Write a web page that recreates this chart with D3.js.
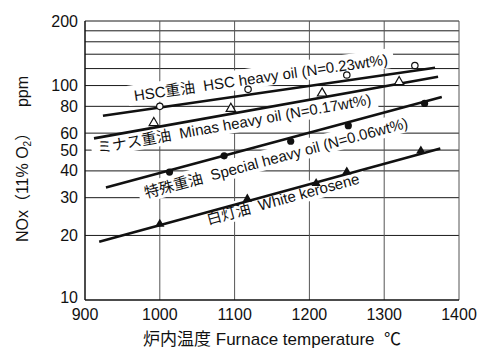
<!DOCTYPE html>
<html>
<head>
<meta charset="utf-8">
<script src="https://cdn.jsdelivr.net/npm/d3@7"></script>
<style>
  body { margin: 0; background: #fff; }
  text { font-family: "Liberation Sans", Arial, "Noto Sans CJK JP", sans-serif; fill: #111; }
</style>
</head>
<body>
<div id="chart"></div>
<script>
// Measured points (furnace temperature in C, NOx ppm at 11% O2)
const hscTemp = [1000, 1118, 1250, 1341];
const hscNox = [80, 96, 112, 124];
const minasTemp = [992, 1095, 1217, 1320];
const minasNox = [67, 78, 92, 104];
const specialTemp = [1013, 1086, 1175, 1252, 1354];
const specialNox = [39.5, 47, 55, 65, 82.5];
const keroTemp = [1000, 1117, 1209, 1250, 1349];
const keroNox = [22.6, 29.6, 35, 39.6, 49.6];

// Trend lines, start and end (temperature, NOx)
const hscFit = [[924, 72.3], [1368, 121]];
const minasFit = [[912, 56.7], [1372, 110]];
const specialFit = [[928, 33.5], [1377, 88.5]];
const keroFit = [[919, 18.7], [1375, 50.9]];

const seriesLabels = [
    "HSC重油  HSC heavy oil (N=0.23wt%)",
    "ミナス重油  Minas heavy oil (N=0.17wt%)",
    "特殊重油  Special heavy oil (N=0.06wt%)",
    "白灯油  White kerosene"
];

const xTicks = [900, 1000, 1100, 1200, 1300, 1400];
const yTicks = [10, 20, 30, 40, 50, 60, 80, 100, 200];
const yGrid = [20, 30, 40, 50, 60, 80, 100, 120, 140, 160, 180, 200];

const width = 480, height = 349;
const margin = { left: 85, right: 21, top: 21, bottom: 49 };

const svg = d3.select("#chart").append("svg")
    .attr("width", width)
    .attr("height", height);

const x = d3.scaleLinear().domain([900, 1400]).range([margin.left, width - margin.right]);
const y = d3.scaleLog().domain([10, 200]).range([height - margin.bottom, margin.top]);

// Grid lines
svg.append("g").selectAll("line")
    .data(yGrid)
    .enter().append("line")
    .attr("x1", x(900)).attr("x2", x(1400))
    .attr("y1", d => y(d)).attr("y2", d => y(d))
    .attr("stroke", "#1a1a1a")
    .attr("stroke-width", 1);

svg.append("g").selectAll("line")
    .data(xTicks.slice(1))
    .enter().append("line")
    .attr("x1", d => x(d)).attr("x2", d => x(d))
    .attr("y1", y(10)).attr("y2", y(200))
    .attr("stroke", "#555")
    .attr("stroke-width", 1);

// Axes frame
svg.append("line")
    .attr("x1", x(900)).attr("x2", x(900))
    .attr("y1", y(10)).attr("y2", y(200))
    .attr("stroke", "#111").attr("stroke-width", 1.5);
svg.append("line")
    .attr("x1", x(900)).attr("x2", x(1400))
    .attr("y1", y(10)).attr("y2", y(10))
    .attr("stroke", "#111").attr("stroke-width", 1.5);

// Tick labels
svg.append("g").selectAll("text")
    .data(yTicks)
    .enter().append("text")
    .attr("x", margin.left - 7)
    .attr("y", d => y(d) + (d === 10 ? -3 : 0))
    .attr("dy", "0.35em")
    .attr("text-anchor", "end")
    .style("font-size", "16px")
    .text(d => d);

svg.append("g").selectAll("text")
    .data(xTicks)
    .enter().append("text")
    .attr("x", d => x(d))
    .attr("y", y(10) + 20)
    .attr("text-anchor", "middle")
    .style("font-size", "16px")
    .text(d => d);

// Axis titles
svg.append("text")
    .attr("x", (x(900) + x(1400)) / 2)
    .attr("y", height - 4)
    .attr("text-anchor", "middle")
    .style("font-size", "17px")
    .style("white-space", "pre")
    .text("炉内温度 Furnace temperature  ℃");

const yTitle = svg.append("text")
    .attr("transform", `translate(28, 159) rotate(-90)`)
    .attr("text-anchor", "middle")
    .style("font-size", "16px")
    .style("white-space", "pre");
yTitle.append("tspan").text("NOx（11% O");
yTitle.append("tspan").attr("dy", 3).style("font-size", "10px").text("2");
yTitle.append("tspan").attr("dy", -3).text("）    ppm");

// Series labels laid along their trend lines
const fits = [hscFit, minasFit, specialFit, keroFit];
const labelAt = [1138, 1097, 1150, 1162];   // temperature at label centre
const labelShift = [-10, 15.5, 21, 12.5];   // px off the line, baseline

fits.forEach((f, i) => {
    const x0 = x(f[0][0]), y0 = y(f[0][1]), x1 = x(f[1][0]), y1 = y(f[1][1]);
    const slope = (y1 - y0) / (x1 - x0);
    const angle = Math.atan(slope) * 180 / Math.PI;
    const cx = x(labelAt[i]);
    const cy = y0 + (cx - x0) * slope;

    const g = svg.append("g")
        .attr("transform", `translate(${cx}, ${cy}) rotate(${angle}) translate(0, ${labelShift[i]})`);
    const t = g.append("text")
        .attr("text-anchor", "middle")
        .style("font-size", "15px")
        .style("white-space", "pre")
        .text(seriesLabels[i]);
    const b = t.node().getBBox();
    g.insert("rect", "text")
        .attr("x", b.x - 6).attr("y", b.y - 2)
        .attr("width", b.width + 12).attr("height", b.height + 3)
        .attr("fill", "#fff");
});

// Trend lines
const line = d3.line().x(d => x(d[0])).y(d => y(d[1]));
svg.append("g").selectAll("path")
    .data(fits)
    .enter().append("path")
    .attr("d", line)
    .attr("fill", "none")
    .attr("stroke", "#111")
    .attr("stroke-width", 2.6);

// Markers
const zip = (a, b) => a.map((v, i) => [v, b[i]]);
const tri = d3.symbol().type(d3.symbolTriangle).size(38);

svg.append("g").selectAll("circle")
    .data(zip(hscTemp, hscNox))
    .enter().append("circle")
    .attr("cx", d => x(d[0])).attr("cy", d => y(d[1]))
    .attr("r", 3.2)
    .attr("fill", "#fff").attr("stroke", "#111").attr("stroke-width", 1.2);

svg.append("g").selectAll("path")
    .data(zip(minasTemp, minasNox))
    .enter().append("path")
    .attr("d", tri)
    .attr("transform", d => `translate(${x(d[0])}, ${y(d[1])})`)
    .attr("fill", "#fff").attr("stroke", "#111").attr("stroke-width", 1.2);

svg.append("g").selectAll("circle")
    .data(zip(specialTemp, specialNox))
    .enter().append("circle")
    .attr("cx", d => x(d[0])).attr("cy", d => y(d[1]))
    .attr("r", 3.6)
    .attr("fill", "#111");

svg.append("g").selectAll("path")
    .data(zip(keroTemp, keroNox))
    .enter().append("path")
    .attr("d", tri)
    .attr("transform", d => `translate(${x(d[0])}, ${y(d[1])})`)
    .attr("fill", "#111");
</script>
</body>
</html>
